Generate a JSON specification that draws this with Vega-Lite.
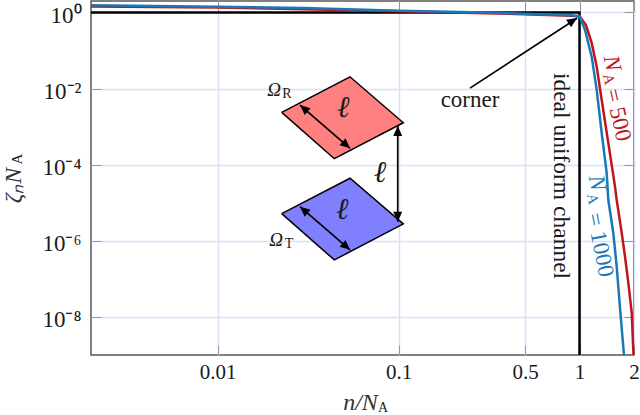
{
  "$schema": "https://vega.github.io/schema/vega-lite/v6.json",
  "width": 543,
  "height": 354,
  "autosize": "none",
  "padding": {"left": 91, "top": 1, "right": 6, "bottom": 60},
  "background": "white",
  "config": {
    "view": {"stroke": "#555555", "strokeWidth": 1.5},
    "text": {"font": "Liberation Serif", "fontSize": 20, "color": "#1a1a1a"}
  },
  "datasets": {
    "curves": [
      {"x": 0.002, "y": 1, "curve": "ideal"},
      {"x": 1, "y": 1, "curve": "ideal"},
      {"x": 1, "y": 1e-9, "curve": "ideal"},
      {"x": 0.002, "y": 1.44, "curve": "500"},
      {"x": 0.01, "y": 1.34, "curve": "500"},
      {"x": 0.03, "y": 1.22, "curve": "500"},
      {"x": 0.1, "y": 1.08, "curve": "500"},
      {"x": 0.3, "y": 0.96, "curve": "500"},
      {"x": 0.6, "y": 0.875, "curve": "500"},
      {"x": 0.9, "y": 0.825, "curve": "500"},
      {"x": 1.006, "y": 0.766, "curve": "500"},
      {"x": 1.086, "y": 0.464, "curve": "500"},
      {"x": 1.168, "y": 0.156, "curve": "500"},
      {"x": 1.245, "y": 0.0373, "curve": "500"},
      {"x": 1.326, "y": 0.005, "curve": "500"},
      {"x": 1.443, "y": 3.7e-4, "curve": "500"},
      {"x": 1.571, "y": 2.65e-5, "curve": "500"},
      {"x": 1.605, "y": 1.18e-5, "curve": "500"},
      {"x": 1.711, "y": 1.61e-6, "curve": "500"},
      {"x": 1.784, "y": 3.85e-7, "curve": "500"},
      {"x": 1.861, "y": 7.85e-8, "curve": "500"},
      {"x": 1.943, "y": 1.28e-8, "curve": "500"},
      {"x": 1.987, "y": 1e-9, "curve": "500"},
      {"x": 0.002, "y": 1.554, "curve": "1000"},
      {"x": 0.01, "y": 1.42, "curve": "1000"},
      {"x": 0.03, "y": 1.3, "curve": "1000"},
      {"x": 0.1, "y": 1.115, "curve": "1000"},
      {"x": 0.3, "y": 0.99, "curve": "1000"},
      {"x": 0.6, "y": 0.9, "curve": "1000"},
      {"x": 0.9, "y": 0.85, "curve": "1000"},
      {"x": 1.0, "y": 0.8, "curve": "1000"},
      {"x": 1.073, "y": 0.343, "curve": "1000"},
      {"x": 1.168, "y": 0.068, "curve": "1000"},
      {"x": 1.245, "y": 0.0091, "curve": "1000"},
      {"x": 1.326, "y": 6.8e-4, "curve": "1000"},
      {"x": 1.413, "y": 6.05e-5, "curve": "1000"},
      {"x": 1.443, "y": 1.18e-5, "curve": "1000"},
      {"x": 1.537, "y": 1.61e-6, "curve": "1000"},
      {"x": 1.605, "y": 2.1e-7, "curve": "1000"},
      {"x": 1.689, "y": 1.02e-8, "curve": "1000"},
      {"x": 1.761, "y": 1e-9, "curve": "1000"}
    ],
    "planes": [
      {"plane": "R", "i": 1, "x": 0.02263, "y": 2.374e-3},
      {"plane": "R", "i": 2, "x": 0.05395, "y": 0.02041},
      {"plane": "R", "i": 3, "x": 0.1063, "y": 1.265e-3},
      {"plane": "R", "i": 4, "x": 0.04419, "y": 1.437e-4},
      {"plane": "R", "i": 5, "x": 0.02263, "y": 2.374e-3},
      {"plane": "T", "i": 1, "x": 0.02263, "y": 5.17e-6},
      {"plane": "T", "i": 2, "x": 0.05395, "y": 4.4e-5},
      {"plane": "T", "i": 3, "x": 0.1063, "y": 2.78e-6},
      {"plane": "T", "i": 4, "x": 0.04419, "y": 3.15e-7},
      {"plane": "T", "i": 5, "x": 0.02263, "y": 5.17e-6}
    ],
    "arrows": [
      {"arrow": "red side", "x": 0.02856, "y": 3.69e-3},
      {"arrow": "red side", "x": 0.05395, "y": 2.69e-4},
      {"arrow": "blue side", "x": 0.02856, "y": 7.9e-6},
      {"arrow": "blue side", "x": 0.05395, "y": 5.77e-7},
      {"arrow": "gap", "x": 0.099, "y": 1.04e-3},
      {"arrow": "gap", "x": 0.099, "y": 3.19e-6},
      {"arrow": "corner", "x": 0.2483, "y": 0.0103},
      {"arrow": "corner", "x": 0.969, "y": 0.708}
    ]
  },
  "data": {"name": "curves"},
  "encoding": {
    "x": {"field": "x", "type": "quantitative", "scale": {"type": "log", "domain": [0.002, 2], "nice": false}, "axis": null},
    "y": {"field": "y", "type": "quantitative", "scale": {"type": "log", "domain": [1e-9, 2], "nice": false}, "axis": null}
  },
  "layer": [
    {
      "mark": {"type": "line", "strokeWidth": 2.5},
      "encoding": {
        "x": {
          "field": "x", "type": "quantitative",
          "scale": {"type": "log", "domain": [0.002, 2], "nice": false},
          "axis": {
            "orient": "bottom", "title": "n/N", "values": [0.01, 0.1, 0.5, 1, 2], "format": "~g",
            "grid": true, "gridColor": "#ddddff", "gridWidth": 1.5, "gridOpacity": 1,
            "domain": false, "tickSize": -10, "tickColor": "#999999", "labelPadding": 16,
            "labelFont": "Liberation Serif", "labelFontSize": 21, "labelColor": "#1a1a1a",
            "labelFlush": false, "labelOverlap": false, "labelBound": false,
            "titleFont": "Liberation Serif", "titleFontSize": 24, "titleFontStyle": "italic", "titleFontWeight": "normal",
            "titleColor": "#333333", "titleX": 269, "titleY": 54, "titleBaseline": "alphabetic"
          }
        },
        "y": {
          "field": "y", "type": "quantitative",
          "scale": {"type": "log", "domain": [1e-9, 2], "nice": false},
          "axis": {
            "orient": "left", "title": "ζₙN", "values": [1, 1e-2, 1e-4, 1e-6, 1e-8],
            "labelExpr": "{'1':'10⁰','0.01':'10⁻²','0.0001':'10⁻⁴','0.000001':'10⁻⁶','1e-8':'10⁻⁸'}[format(datum.value, '') + ''] || '10⁰'",
            "grid": true, "gridColor": "#ddddff", "gridWidth": 1.5, "gridOpacity": 1,
            "domain": false, "tickSize": -10, "tickColor": "#999999", "labelPadding": 20, "labelOffset": 3,
            "labelFont": "Liberation Serif", "labelFontSize": 23, "labelColor": "#1a1a1a",
            "labelOverlap": false, "labelBound": false, "labelFlush": false,
            "titleFont": "Liberation Serif", "titleFontSize": 24, "titleFontStyle": "italic", "titleFontWeight": "normal",
            "titleColor": "#333333", "titleX": -66, "titleY": 184
          }
        },
        "color": {"field": "curve", "type": "nominal", "scale": {"domain": ["ideal", "500", "1000"], "range": ["#000000", "#c0141c", "#1a78b8"]}, "legend": null}
      }
    },
    {
      "mark": {"type": "line", "stroke": "transparent"},
      "encoding": {
        "x": {
          "field": "x", "type": "quantitative",
          "axis": {"orient": "top", "title": null, "values": [0.01, 0.1, 0.5, 1, 2], "labels": false, "grid": false, "domain": false, "tickSize": -10, "tickColor": "#999999"}
        },
        "y": {
          "field": "y", "type": "quantitative",
          "axis": {"orient": "right", "title": null, "values": [1, 1e-2, 1e-4, 1e-6, 1e-8], "labels": false, "grid": false, "domain": false, "tickSize": -10, "tickColor": "#999999"}
        }
      }
    },
    {
      "data": {"name": "planes"},
      "mark": {"type": "line", "stroke": "#000000", "strokeWidth": 1.5},
      "encoding": {
        "order": {"field": "i", "type": "ordinal"},
        "detail": {"field": "plane"},
        "fill": {"field": "plane", "type": "nominal", "scale": {"domain": ["R", "T"], "range": ["#ff8080", "#8080ff"]}, "legend": null}
      }
    },
    {
      "data": {"name": "arrows"},
      "mark": {"type": "line", "stroke": "#000000", "strokeWidth": 1.7},
      "encoding": {"detail": {"field": "arrow"}}
    },
    {
      "data": {"values": [{"x": 0.05147, "y": 3.29e-4}, {"x": 0.05147, "y": 7.05e-7}]},
      "mark": {"type": "point", "shape": "M0,-1L-0.9,1L0.9,1Z", "filled": true, "opacity": 1, "color": "#000000", "size": 100, "angle": 130.7}
    },
    {
      "data": {"values": [{"x": 0.02998, "y": 3.02e-3}, {"x": 0.02998, "y": 6.47e-6}]},
      "mark": {"type": "point", "shape": "M0,-1L-0.9,1L0.9,1Z", "filled": true, "opacity": 1, "color": "#000000", "size": 100, "angle": 310.7}
    },
    {
      "data": {"values": [{"x": 0.099, "y": 7.67e-4}]},
      "mark": {"type": "point", "shape": "M0,-1L-0.9,1L0.9,1Z", "filled": true, "opacity": 1, "color": "#000000", "size": 100, "angle": 0}
    },
    {
      "data": {"values": [{"x": 0.099, "y": 4.32e-6}]},
      "mark": {"type": "point", "shape": "M0,-1L-0.9,1L0.9,1Z", "filled": true, "opacity": 1, "color": "#000000", "size": 100, "angle": 180}
    },
    {
      "data": {"values": [{"x": 0.918, "y": 0.602}]},
      "mark": {"type": "point", "shape": "M0,-1L-0.9,1L0.9,1Z", "filled": true, "opacity": 1, "color": "#000000", "size": 100, "angle": 56.4}
    },
    {
      "data": {"values": [
        {"x": 0.02052, "y": 9.14e-3, "label": "Ω"},
        {"x": 0.02105, "y": 1.06e-6, "label": "Ω"}
      ]},
      "mark": {"type": "text", "fontSize": 19, "fontStyle": "italic", "baseline": "middle"},
      "encoding": {"text": {"field": "label"}}
    },
    {
      "data": {"values": [
        {"x": 0.04955, "y": 3.08e-3, "label": "ℓ"},
        {"x": 0.04892, "y": 6.47e-6, "label": "ℓ"},
        {"x": 0.07905, "y": 5.95e-5, "label": "ℓ"}
      ]},
      "mark": {"type": "text", "fontSize": 30, "fontStyle": "italic", "baseline": "middle"},
      "encoding": {"text": {"field": "label"}}
    },
    {
      "data": {"values": [
        {"x": 0.02421, "y": 7.17e-3, "label": "R"},
        {"x": 0.02483, "y": 8.3e-7, "label": "T"},
        {"x": 0.0821, "y": 4.1e-11, "label": "A"}
      ]},
      "mark": {"type": "text", "fontSize": 14, "baseline": "middle"},
      "encoding": {"text": {"field": "label"}}
    },
    {
      "data": {"values": [{"x": 0.00078, "y": 1.41e-4, "label": "A"}]},
      "mark": {"type": "text", "fontSize": 15, "baseline": "middle", "angle": 270},
      "encoding": {"text": {"field": "label"}}
    },
    {
      "data": {"values": [{"x": 0.2483, "y": 4.99e-3, "label": "corner"}]},
      "mark": {"type": "text", "fontSize": 23, "baseline": "middle"},
      "encoding": {"text": {"field": "label"}}
    },
    {
      "data": {"values": [{"x": 0.7903, "y": 5.05e-5, "label": "ideal uniform channel"}]},
      "mark": {"type": "text", "fontSize": 23.5, "baseline": "middle", "angle": 90},
      "encoding": {"text": {"field": "label"}}
    },
    {
      "data": {"values": [{"x": 1.5125, "y": 0.0467, "label": "N"}]},
      "mark": {"type": "text", "fontSize": 23, "fontStyle": "italic", "baseline": "middle", "angle": 77, "color": "#c0141c"},
      "encoding": {"text": {"field": "label"}}
    },
    {
      "data": {"values": [{"x": 1.455, "y": 0.01775, "label": "A"}]},
      "mark": {"type": "text", "fontSize": 15, "baseline": "middle", "angle": 77, "color": "#c0141c"},
      "encoding": {"text": {"field": "label"}}
    },
    {
      "data": {"values": [{"x": 1.632, "y": 2.02e-3, "label": "= 500"}]},
      "mark": {"type": "text", "fontSize": 23, "baseline": "middle", "angle": 77, "color": "#c0141c"},
      "encoding": {"text": {"field": "label"}}
    },
    {
      "data": {"values": [{"x": 1.249, "y": 3.31e-5, "label": "N"}]},
      "mark": {"type": "text", "fontSize": 23, "fontStyle": "italic", "baseline": "middle", "angle": 79, "color": "#1a78b8"},
      "encoding": {"text": {"field": "label"}}
    },
    {
      "data": {"values": [{"x": 1.187, "y": 1.26e-5, "label": "A"}]},
      "mark": {"type": "text", "fontSize": 15, "baseline": "middle", "angle": 79, "color": "#1a78b8"},
      "encoding": {"text": {"field": "label"}}
    },
    {
      "data": {"values": [{"x": 1.298, "y": 7.8e-7, "label": "= 1000"}]},
      "mark": {"type": "text", "fontSize": 23, "baseline": "middle", "angle": 79, "color": "#1a78b8"},
      "encoding": {"text": {"field": "label"}}
    }
  ],
  "resolve": {"axis": {"x": "independent", "y": "independent"}}
}
